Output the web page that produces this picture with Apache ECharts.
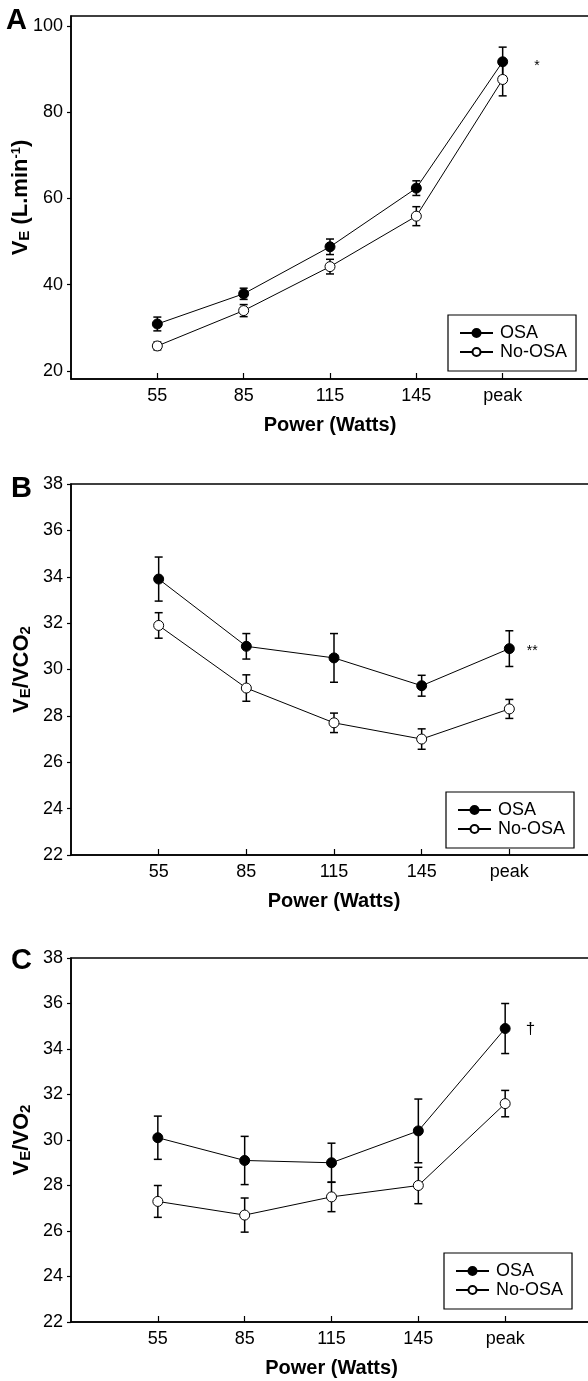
<!DOCTYPE html>
<html>
<head>
<meta charset="utf-8">
<script src="https://cdn.jsdelivr.net/npm/echarts@6/dist/echarts.min.js"></script>
<style>
html,body{margin:0;padding:0;background:#fff;}
#chart{width:588px;height:1381px;}
</style>
</head>
<body>
<div id="chart"></div>
<script>
// ---- data ----
const categories = ['55', '85', '115', '145', 'peak'];
const seriesNames = ['OSA', 'No-OSA'];
const panelLetters = ['A', 'B', 'C'];
const sigMarks = ['*', '**', '\u2020'];

// Panel A: VE (L/min)
const osaA   = [30.9, 37.9, 48.8, 62.4, 91.7];
const osaSeA = [1.6, 1.3, 1.8, 1.7, 3.4];
const noA    = [25.8, 34.0, 44.2, 55.9, 87.6];
const noSeA  = [0.9, 1.4, 1.7, 2.2, 3.8];
// Panel B: VE/VCO2
const osaB   = [33.9, 31.0, 30.5, 29.3, 30.9];
const osaSeB = [0.95, 0.55, 1.05, 0.45, 0.77];
const noB    = [31.9, 29.2, 27.7, 27.0, 28.3];
const noSeB  = [0.55, 0.57, 0.42, 0.44, 0.41];
// Panel C: VE/VO2
const osaC   = [30.1, 29.1, 29.0, 30.4, 34.9];
const osaSeC = [0.95, 1.06, 0.86, 1.4, 1.1];
const noC    = [27.3, 26.7, 27.5, 28.0, 31.6];
const noSeC  = [0.7, 0.75, 0.65, 0.8, 0.58];

const yTicksA  = [20, 40, 60, 80, 100];
const yTicksBC = [22, 24, 26, 28, 30, 32, 34, 36, 38];
const xTitle = 'Power (Watts)';

// ---- layout / style ----
const FONT = '"Liberation Sans", Arial, sans-serif';
const panels = [
  { grid: {left: 71, top: 16, width: 518, height: 363}, yMin: 18.14, yMax: 102.32, ticks: yTicksA,
    osa: osaA, osaSe: osaSeA, no: noA, noSe: noSeA,
    yName: '{b|V}{s|E}{b| (L.min}{p|-1}{b|)}', yNameGap: 39,
    letterPos: {left: 6, top: 6}, legendPos: {left: 448, top: 315},
    sigDist: 26, sigOffset: [0, 4], sigSize: 14 },
  { grid: {left: 71, top: 484, width: 526, height: 371}, yMin: 22, yMax: 38, ticks: yTicksBC,
    osa: osaB, osaSe: osaSeB, no: noB, noSe: noSeB,
    yName: '{b|V}{s|E}{b|/VCO}{s|2}', yNameGap: 38,
    letterPos: {left: 11, top: 474}, legendPos: {left: 446, top: 792},
    sigDist: 12, sigOffset: [0, 3], sigSize: 14 },
  { grid: {left: 71, top: 958, width: 521, height: 364}, yMin: 22, yMax: 38, ticks: yTicksBC,
    osa: osaC, osaSe: osaSeC, no: noC, noSe: noSeC,
    yName: '{b|V}{s|E}{b|/VO}{s|2}', yNameGap: 38,
    letterPos: {left: 11, top: 946}, legendPos: {left: 444, top: 1253},
    sigDist: 15, sigOffset: [0, 1], sigSize: 17 }
];

const xPositions = categories.map((c, i) => i + 1);

function errRender(params, api) {
  const x = api.value(0), lo = api.value(1), hi = api.value(2);
  const a = api.coord([x, hi]), b = api.coord([x, lo]);
  const w = 4;
  const st = {stroke: '#000', lineWidth: 1.5};
  return {type: 'group', children: [
    {type: 'line', shape: {x1: a[0], y1: a[1], x2: b[0], y2: b[1]}, style: st},
    {type: 'line', shape: {x1: a[0] - w, y1: a[1], x2: a[0] + w, y2: a[1]}, style: st},
    {type: 'line', shape: {x1: b[0] - w, y1: b[1], x2: b[0] + w, y2: b[1]}, style: st}
  ]};
}

const grids = [], xAxes = [], yAxes = [], series = [], titles = [], legends = [];
panels.forEach((p, k) => {
  grids.push(Object.assign({show: true, borderColor: '#000', borderWidth: 1.5, backgroundColor: 'transparent',
    containLabel: false, outerBoundsMode: 'none'}, p.grid));
  xAxes.push({
    type: 'value', gridIndex: k, min: 0, max: categories.length + 1,
    name: xTitle, nameLocation: 'middle', nameGap: 36, nameMoveOverlap: false,
    nameTextStyle: {fontFamily: FONT, fontSize: 20, fontWeight: 'bold', color: '#000'},
    axisLine: {show: true, lineStyle: {color: '#000', width: 1.5}},
    axisTick: {show: true, inside: true, length: 6, lineStyle: {color: '#000', width: 1.2}, customValues: xPositions},
    axisLabel: {show: true, margin: 8, fontFamily: FONT, fontSize: 18, color: '#000', customValues: xPositions,
      formatter: v => categories[Math.round(v) - 1] || ''},
    splitLine: {show: false}
  });
  yAxes.push({
    type: 'value', gridIndex: k, min: p.yMin, max: p.yMax,
    name: p.yName, nameLocation: 'middle', nameGap: p.yNameGap, nameRotate: 90, nameMoveOverlap: false,
    nameTextStyle: {rich: {
      b: {fontFamily: FONT, fontSize: 22, fontWeight: 'bold', color: '#000'},
      s: {fontFamily: FONT, fontSize: 15, fontWeight: 'bold', color: '#000', verticalAlign: 'bottom'},
      p: {fontFamily: FONT, fontSize: 13, fontWeight: 'bold', color: '#000', verticalAlign: 'top'}
    }},
    axisLine: {show: true, lineStyle: {color: '#000', width: 1.5}},
    axisTick: {show: true, inside: false, length: 4, lineStyle: {color: '#000', width: 1.2}, customValues: p.ticks},
    axisLabel: {show: true, margin: 8, fontFamily: FONT, fontSize: 18, color: '#000', customValues: p.ticks},
    splitLine: {show: false}
  });
  titles.push(Object.assign({text: panelLetters[k], padding: 0,
    textStyle: {fontFamily: FONT, fontSize: 29, fontWeight: 'bold', color: '#000'}}, p.letterPos));
  legends.push(Object.assign({
    orient: 'vertical', data: seriesNames, itemWidth: 33, itemHeight: 10, itemGap: 1,
    padding: [9, 9, 10, 11], borderColor: '#000', borderWidth: 1.2, backgroundColor: '#fff',
    textStyle: {fontFamily: FONT, fontSize: 18, color: '#000', padding: [0, 0, 0, 2]},
    selectedMode: false
  }, p.legendPos));

  const groups = [
    {name: seriesNames[0], mean: p.osa, se: p.osaSe, fill: '#000'},
    {name: seriesNames[1], mean: p.no, se: p.noSe, fill: '#fff'}
  ];
  groups.forEach((g, gi) => {
    series.push({
      type: 'custom', name: g.name + ' error', xAxisIndex: k, yAxisIndex: k, z: 1,
      renderItem: errRender, encode: {x: 0, y: [1, 2]},
      data: g.mean.map((m, i) => [xPositions[i], m - g.se[i], m + g.se[i]]),
      silent: true
    });
  });
  groups.forEach((g, gi) => {
    series.push({
      type: 'line', name: g.name, xAxisIndex: k, yAxisIndex: k, z: 3 + gi,
      symbol: 'circle', symbolSize: 10, showSymbol: true,
      lineStyle: {color: '#000', width: 1},
      itemStyle: {color: g.fill, borderColor: '#000', borderWidth: 1},
      emphasis: {disabled: true},
      animation: false,
      data: g.mean.map((m, i) => {
        const d = {value: [xPositions[i], m]};
        if (gi === 0 && i === g.mean.length - 1) {
          d.label = {show: true, formatter: sigMarks[k], position: 'right', distance: p.sigDist,
            offset: p.sigOffset, fontFamily: FONT, fontSize: p.sigSize, color: '#000'};
        }
        return d;
      })
    });
  });
});

const chart = echarts.init(document.getElementById('chart'), null, {renderer: 'canvas'});
chart.setOption({
  backgroundColor: '#fff',
  animation: false,
  title: titles,
  legend: legends,
  grid: grids,
  xAxis: xAxes,
  yAxis: yAxes,
  series: series
});
</script>
</body>
</html>
